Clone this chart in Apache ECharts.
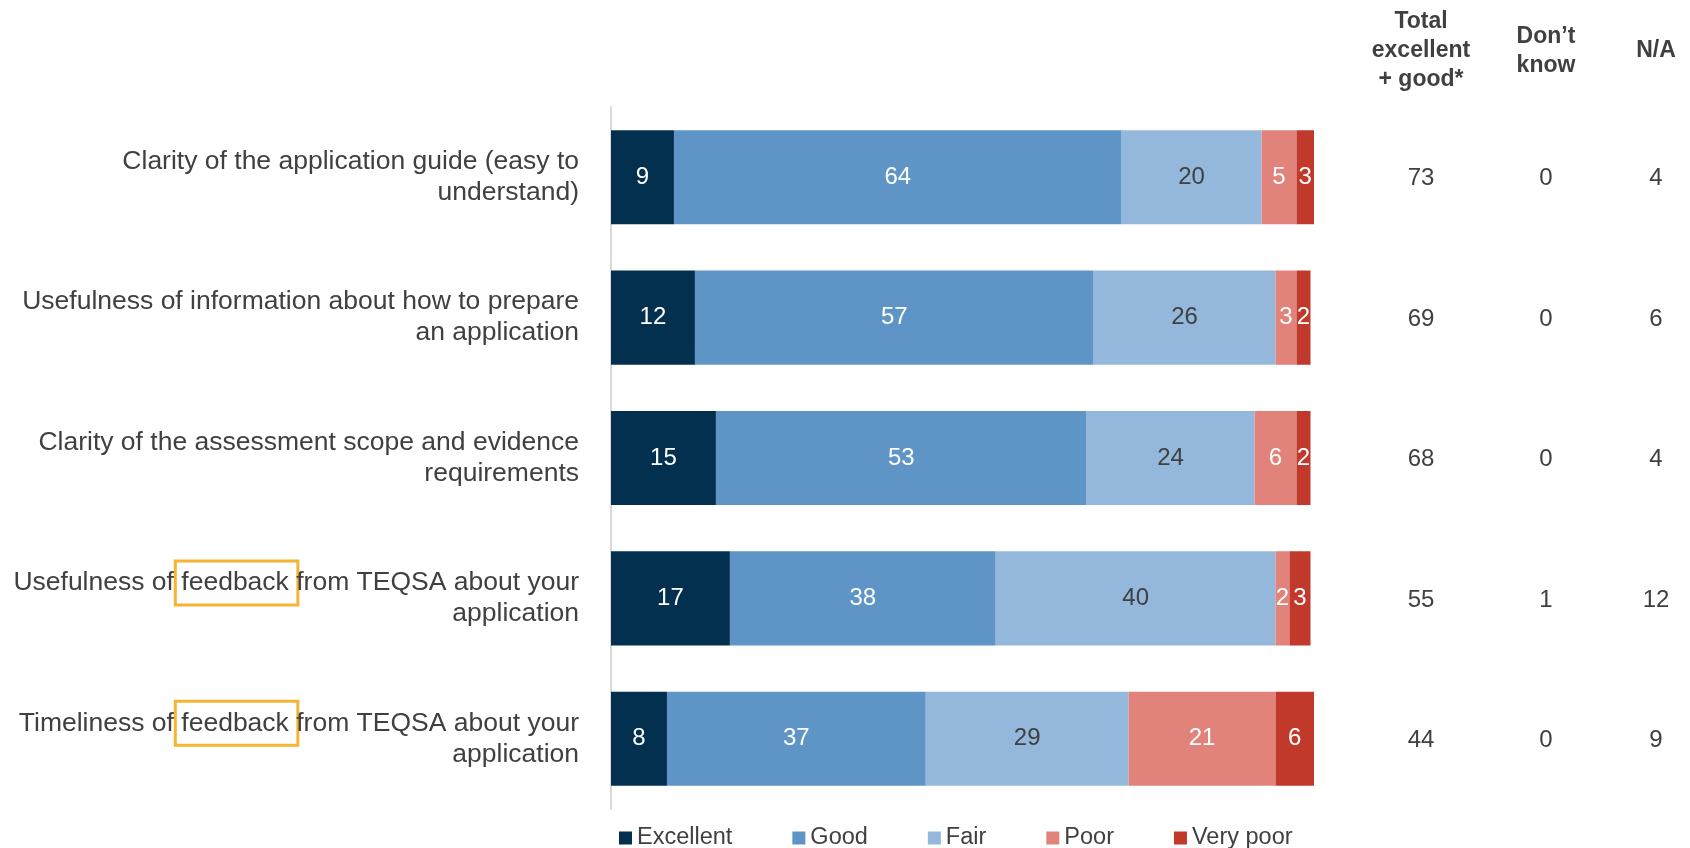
<!DOCTYPE html>
<html>
<head>
<meta charset="utf-8">
<title>Satisfaction with the application process</title>
<script src="https://cdn.jsdelivr.net/npm/echarts@6/dist/echarts.min.js"></script>
<style>
  html, body { margin: 0; padding: 0; background: #ffffff; }
  #chart { width: 1690px; height: 848px; }
</style>
</head>
<body>
<div id="chart"></div>
<script>
// Survey items (two-line labels, right aligned against the bars)
const categories = [
  'Clarity of the application guide (easy to\nunderstand)',
  'Usefulness of information about how to prepare\nan application',
  'Clarity of the assessment scope and evidence\nrequirements',
  'Usefulness of feedback from TEQSA about your\napplication',
  'Timeliness of feedback from TEQSA about your\napplication'
];

// Rating shares (%)
const ratingNames = ['Excellent', 'Good', 'Fair', 'Poor', 'Very poor'];
const excellent = [9, 12, 15, 17, 8];
const good      = [64, 57, 53, 38, 37];
const fair      = [20, 26, 24, 40, 29];
const poor      = [5, 3, 6, 2, 21];
const veryPoor  = [3, 2, 2, 3, 6];

// Summary columns on the right
const columnHeaders = ['Total\nexcellent\n+ good*', 'Don\u2019t\nknow', 'N/A'];
const totalExcellentGood = [73, 69, 68, 55, 44];
const dontKnow = [0, 0, 0, 1, 0];
const notApplicable = [4, 6, 4, 12, 9];

// Word outlined inside two of the item labels
const highlightWord = 'feedback';

const FONT = "'Liberation Sans', Arial, sans-serif";
const TEXT = '#404040';
const LABEL_SIZE = 26.5;
const colors = ['#03304F', '#5F95C6', '#94B8DB', '#E1837B', '#C1392B'];
const labelColors = ['#ffffff', '#ffffff', TEXT, '#ffffff', '#ffffff'];
const ratingSeries = [excellent, good, fair, poor, veryPoor];

const GRID_TOP = 107, GRID_HEIGHT = 702;
const columnCenters = [1421, 1546, 1656];
const headerMargins = [13, 27, 42];
const columnValues = [totalExcellentGood, dontKnow, notApplicable];

const chart = echarts.init(document.getElementById('chart'), null, { renderer: 'canvas' });

// Rounded shares sum to 100 or 101; the scale splits the difference
const grids = [{ left: 611, top: GRID_TOP, width: 703, height: GRID_HEIGHT }];
const xAxes = [{
  type: 'value', min: 0, max: 100.5, show: false, gridIndex: 0
}];
const yAxes = [{
  type: 'category', data: categories, inverse: true, gridIndex: 0,
  axisLine: { show: true, lineStyle: { color: '#D9D9D9', width: 2 } },
  axisTick: { show: false },
  axisLabel: {
    margin: 32, fontFamily: FONT, fontSize: LABEL_SIZE, color: TEXT,
    lineHeight: 31, align: 'right'
  }
}];

const series = ratingSeries.map((vals, i) => ({
  name: ratingNames[i],
  type: 'bar',
  stack: 'rating',
  xAxisIndex: 0, yAxisIndex: 0,
  barWidth: '67%',
  clip: true,
  data: vals,
  itemStyle: { color: colors[i] },
  label: {
    show: true, position: 'inside', fontFamily: FONT, fontSize: 24,
    color: labelColors[i], formatter: '{c}'
  },
  emphasis: { disabled: true }
}));

columnHeaders.forEach((header, c) => {
  const gi = c + 1;
  grids.push({ left: columnCenters[c] - 30, top: GRID_TOP, width: 60, height: GRID_HEIGHT });
  xAxes.push({
    type: 'category', data: [header], gridIndex: gi, position: 'top',
    axisLine: { show: false }, axisTick: { show: false },
    axisLabel: {
      interval: 0, margin: headerMargins[c], fontFamily: FONT, fontSize: 23,
      fontWeight: 'bold', color: TEXT, lineHeight: 29, align: 'center'
    }
  });
  yAxes.push({ type: 'category', data: categories, inverse: true, gridIndex: gi, show: false });
  series.push({
    type: 'scatter',
    xAxisIndex: gi, yAxisIndex: gi,
    symbolSize: 1,
    itemStyle: { color: 'rgba(0,0,0,0)', opacity: 1 },
    data: columnValues[c].map((v, r) => [0, r, v]),
    label: {
      show: true, position: 'inside', fontFamily: FONT, fontSize: 24, color: TEXT,
      opacity: 1, offset: [0, 1.5],
      formatter: p => String(p.value[2])
    },
    emphasis: { disabled: true },
    silent: true
  });
});

chart.setOption({
  animation: false,
  backgroundColor: '#ffffff',
  grid: grids,
  xAxis: xAxes,
  yAxis: yAxes,
  legend: {
    data: ratingNames,
    left: 614, top: 821,
    icon: 'rect', itemWidth: 13, itemHeight: 13, itemGap: 60,
    textStyle: { fontFamily: FONT, fontSize: 23.5, color: TEXT },
    selectedMode: false
  },
  series: series
});

// Outline the highlighted word in the item labels that contain it
const measure = document.createElement('canvas').getContext('2d');
measure.font = LABEL_SIZE + 'px ' + FONT;
const labelRight = 611 - 32;
const boxes = [];
categories.forEach((cat, r) => {
  const firstLine = cat.split('\n')[0];
  const at = firstLine.indexOf(highlightWord);
  if (at < 0) return;
  const lineStart = labelRight - measure.measureText(firstLine).width;
  const x0 = lineStart + measure.measureText(firstLine.slice(0, at)).width;
  const w = measure.measureText(highlightWord).width;
  const cy = chart.convertToPixel({ yAxisIndex: 0 }, r) - 15.5;
  boxes.push({
    type: 'rect',
    shape: { x: x0 - 6, y: cy - 22, width: w + 15, height: 44 },
    style: { fill: 'none', stroke: '#F6B433', lineWidth: 3 },
    silent: true
  });
});
chart.setOption({ graphic: boxes });
</script>
</body>
</html>
